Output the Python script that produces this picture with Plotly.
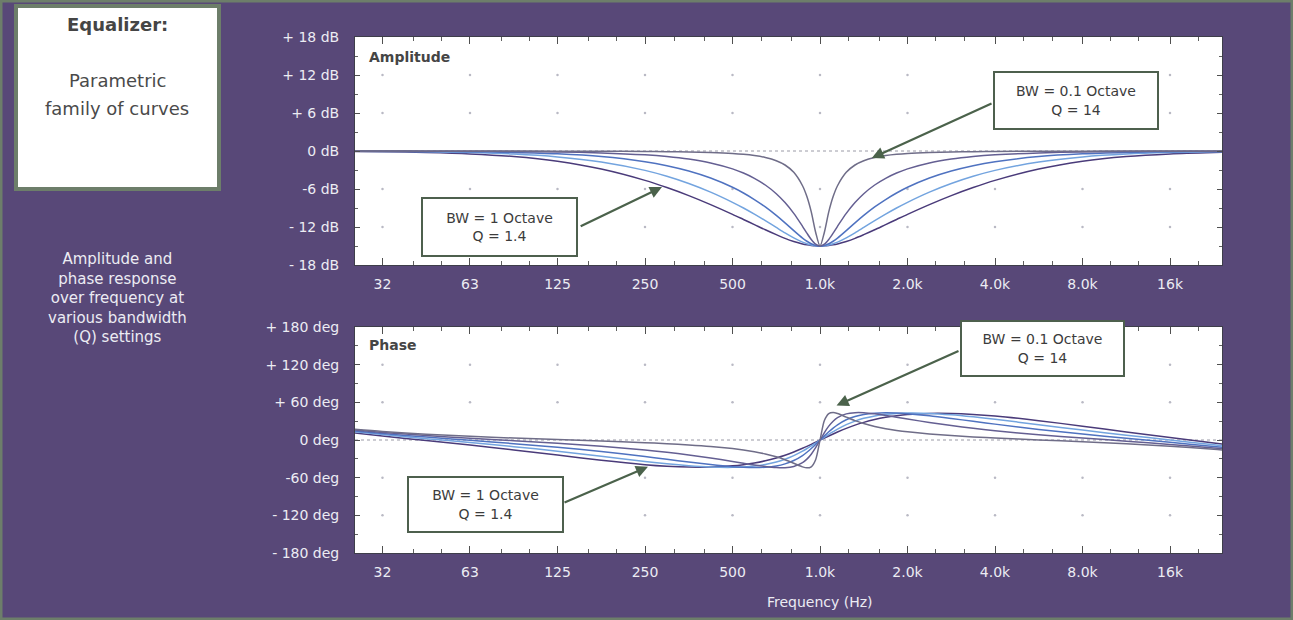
import math
import plotly.graph_objects as go

# ---------------- data ----------------
freq_hz = [25.0, 31.25, 44.19, 62.5, 88.39, 125, 176.8, 250, 297.3, 353.6, 420.4, 500,
           545.3, 594.6, 648.4, 707.1, 757.9, 812.3, 870.6, 901.3, 933.0, 965.9, 1000,
           1035.3, 1071.8, 1109.6, 1148.7, 1231.1, 1319.5, 1414.2, 1542.2, 1681.8, 1834.0,
           2000, 2378.4, 2828.4, 3363.6, 4000, 5656.9, 8000, 11313.7, 16000, 22627.4, 24251]

# amplitude (dB), widest (BW = 1 octave) to narrowest (BW = 0.1 octave)
amp_bw_1 = [-0.08, -0.12, -0.24, -0.46, -0.88, -1.63, -2.85, -4.64, -5.77, -7.04, -8.46, -10.0,
            -10.81, -11.62, -12.44, -13.21, -13.79, -14.28, -14.67, -14.81, -14.91, -14.98, -15.0,
            -14.98, -14.91, -14.81, -14.67, -14.28, -13.79, -13.21, -12.44, -11.62, -10.81,
            -10.0, -8.46, -7.04, -5.77, -4.64, -2.85, -1.63, -0.88, -0.46, -0.24, -0.21]
amp_bw_2 = [-0.04, -0.06, -0.13, -0.25, -0.48, -0.93, -1.73, -3.06, -3.99, -5.13, -6.49, -8.10,
            -9.00, -9.97, -11.00, -12.07, -12.92, -13.71, -14.38, -14.64, -14.84, -14.96, -15.0,
            -14.96, -14.84, -14.64, -14.38, -13.71, -12.92, -12.07, -11.00, -9.97, -9.00,
            -8.10, -6.49, -5.13, -3.99, -3.06, -1.73, -0.93, -0.48, -0.25, -0.13, -0.11]
amp_bw_3 = [-0.02, -0.03, -0.06, -0.11, -0.23, -0.45, -0.88, -1.69, -2.32, -3.16, -4.27, -5.73,
            -6.63, -7.66, -8.83, -10.17, -11.34, -12.57, -13.75, -14.25, -14.65, -14.91, -15.0,
            -14.91, -14.65, -14.25, -13.75, -12.57, -11.34, -10.17, -8.83, -7.66, -6.63,
            -5.73, -4.27, -3.16, -2.32, -1.69, -0.88, -0.45, -0.23, -0.11, -0.06, -0.05]
amp_bw_4 = [-0.01, -0.01, -0.02, -0.04, -0.07, -0.15, -0.30, -0.61, -0.88, -1.28, -1.88, -2.82,
            -3.48, -4.31, -5.37, -6.74, -8.14, -9.85, -11.89, -12.97, -13.97, -14.72, -15.0,
            -14.72, -13.97, -12.97, -11.89, -9.85, -8.14, -6.74, -5.37, -4.31, -3.48,
            -2.82, -1.88, -1.28, -0.88, -0.61, -0.30, -0.15, -0.07, -0.04, -0.02, -0.02]
amp_bw_01 = [0.0, 0.0, 0.0, -0.01, -0.01, -0.02, -0.03, -0.07, -0.10, -0.15, -0.24, -0.39,
             -0.52, -0.72, -1.02, -1.53, -2.21, -3.37, -5.49, -7.20, -9.62, -12.82, -15.0,
             -12.82, -9.62, -7.20, -5.49, -3.37, -2.21, -1.53, -1.02, -0.72, -0.52,
             -0.39, -0.24, -0.15, -0.10, -0.07, -0.03, -0.02, -0.01, -0.01, 0.0, 0.0]

# phase (deg)
ph_bw_1 = [11.3, 6.4, -0.9, -8.1, -15.8, -24.0, -32.3, -39.3, -41.8, -43.2, -43.1, -41.2,
           -39.3, -36.7, -33.2, -28.6, -24.2, -19.0, -13.2, -10.1, -6.9, -3.6, -0.3,
           3.1, 6.4, 9.6, 12.7, 18.5, 23.7, 28.1, 32.6, 36.1, 38.7,
           40.6, 42.4, 42.3, 40.8, 38.2, 30.8, 22.0, 12.9, 4.1, -4.7, -6.5]
ph_bw_2 = [13.1, 8.6, 2.1, -4.0, -10.6, -17.8, -25.9, -34.1, -37.9, -41.0, -43.1, -43.6,
           -42.9, -41.5, -39.0, -35.0, -30.6, -24.9, -17.8, -13.7, -9.4, -4.9, -0.3,
           4.4, 8.9, 13.2, 17.3, 24.4, 30.1, 34.5, 38.4, 40.9, 42.3,
           42.9, 42.4, 40.2, 36.9, 33.0, 24.4, 15.8, 7.7, 0.0, -7.7, -9.3]
ph_bw_3 = [14.6, 10.4, 4.7, -0.4, -5.8, -11.6, -18.4, -26.4, -30.7, -35.1, -39.2, -42.5,
           -43.5, -43.9, -43.3, -41.3, -38.0, -32.7, -24.7, -19.5, -13.6, -7.1, -0.3,
           6.6, 13.1, 19.0, 24.2, 32.2, 37.5, 40.7, 42.8, 43.3, 42.9,
           41.8, 38.5, 34.3, 29.8, 25.3, 16.9, 9.5, 2.9, -3.6, -10.3, -11.7]
ph_bw_4 = [16.0, 12.1, 7.1, 2.9, -1.1, -5.1, -9.9, -15.9, -19.5, -23.8, -28.7, -34.1,
           -37.0, -39.8, -42.2, -43.9, -44.1, -42.1, -36.1, -30.5, -22.6, -12.3, -0.3,
           11.8, 22.1, 30.0, 35.5, 41.6, 43.5, 43.4, 41.7, 39.2, 36.4,
           33.5, 27.9, 23.0, 18.6, 14.8, 8.4, 3.1, -1.8, -7.0, -12.7, -14.0]
ph_bw_01 = [17.2, 13.6, 9.2, 5.9, 3.1, 0.8, -1.5, -4.2, -5.8, -7.8, -10.3, -13.7,
            -15.9, -18.6, -22.2, -26.7, -31.4, -37.0, -42.8, -44.4, -42.7, -31.5, -0.3,
            31.0, 42.1, 43.8, 42.2, 36.5, 30.9, 26.2, 21.6, 18.1, 15.3,
            13.0, 9.6, 7.0, 4.9, 3.1, 0.1, -2.8, -6.0, -9.9, -14.8, -16.0]

x_tick_vals = [31.25, 62.5, 125, 250, 500, 1000, 2000, 4000, 8000, 16000]
x_tick_text = ["32", "63", "125", "250", "500", "1.0k", "2.0k", "4.0k", "8.0k", "16k"]
x_minor_vals = [25, 40, 50, 80, 100, 160, 200, 315, 400, 630, 800, 1250, 1600,
                2500, 3150, 5000, 6300, 10000, 12500, 20000]
amp_tick_vals = [-18, -12, -6, 0, 6, 12, 18]
amp_tick_text = ["- 18 dB", "- 12 dB", "-6 dB", "0 dB", "+ 6 dB", "+ 12 dB", "+ 18 dB"]
ph_tick_vals = [-180, -120, -60, 0, 60, 120, 180]
ph_tick_text = ["- 180 deg", "- 120 deg", "-60 deg", "0 deg", "+ 60 deg", "+ 120 deg", "+ 180 deg"]

amp_series = [amp_bw_1, amp_bw_2, amp_bw_3, amp_bw_4, amp_bw_01]
ph_series = [ph_bw_1, ph_bw_2, ph_bw_3, ph_bw_4, ph_bw_01]
line_colors = ["#4a3b7a", "#73a4df", "#4f72c0", "#645f92", "#6f6d88"]

# ---------------- layout helpers ----------------
W, H = 1293, 620
def px(x):
    return x / W
def py(y):
    return 1 - y / H

BG = "#584878"
FRAME = "#6d7e6a"
LBL = "#ececf3"
FONT = "DejaVu Sans"

fig = go.Figure()

# grid intersection dots
for yvals, xa, ya in [([-12, -6, 6, 12], "x", "y"), ([-120, -60, 60, 120], "x2", "y2")]:
    gx, gy = [], []
    for yv in yvals:
        for xv in x_tick_vals:
            gx.append(xv)
            gy.append(yv)
    fig.add_trace(go.Scatter(x=gx, y=gy, mode="markers", xaxis=xa, yaxis=ya,
                             marker=dict(size=2.5, color="#b9b9c4"), hoverinfo="skip"))

for vals, col in zip(amp_series, line_colors):
    fig.add_trace(go.Scatter(x=freq_hz, y=vals, mode="lines", xaxis="x", yaxis="y",
                             line=dict(color=col, width=1.5, shape="spline", smoothing=0.8),
                             hoverinfo="skip"))
for vals, col in zip(ph_series, line_colors):
    fig.add_trace(go.Scatter(x=freq_hz, y=vals, mode="lines", xaxis="x2", yaxis="y2",
                             line=dict(color=col, width=1.5, shape="spline", smoothing=0.8),
                             hoverinfo="skip"))

xlog_range = [1.4003, 4.3829]
xdom = [px(355), px(1222)]
common_x = dict(type="log", range=xlog_range, domain=xdom, tickmode="array",
                tickvals=x_tick_vals, ticktext=x_tick_text, ticks="inside", ticklen=7,
                tickcolor="#505050", tickwidth=1, showline=True, linecolor="#3e3e4a",
                linewidth=1, mirror="allticks", showgrid=False, zeroline=False,
                tickfont=dict(family=FONT, size=14, color=LBL), ticklabelstandoff=6,
                minor=dict(tickvals=x_minor_vals, ticks="inside", ticklen=4,
                           tickcolor="#606060", showgrid=False))
common_y = dict(tickmode="array", ticks="inside", ticklen=5, tickcolor="#505050",
                showline=True, linecolor="#3e3e4a", linewidth=1, mirror="allticks",
                showgrid=False, zeroline=False,
                tickfont=dict(family=FONT, size=14, color=LBL), ticklabelstandoff=12)

fig.update_layout(
    width=W, height=H, autosize=False,
    margin=dict(l=0, r=0, t=0, b=0, pad=0, autoexpand=False),
    paper_bgcolor=BG, plot_bgcolor="white", showlegend=False,
    font=dict(family=FONT, color=LBL),
    xaxis=dict(anchor="y", **common_x),
    xaxis2=dict(anchor="y2", **common_x),
    yaxis=dict(anchor="x", domain=[py(265), py(37)], range=[-18, 18],
               tickvals=amp_tick_vals, ticktext=amp_tick_text,
               minor=dict(dtick=3, tick0=0, ticks="inside", ticklen=3, tickcolor="#606060"),
               **common_y),
    yaxis2=dict(anchor="x2", domain=[py(553), py(327)], range=[-180, 180],
                tickvals=ph_tick_vals, ticktext=ph_tick_text,
                minor=dict(dtick=30, tick0=0, ticks="inside", ticklen=3, tickcolor="#606060"),
                **common_y),
)

shapes = [
    dict(type="rect", xref="paper", yref="paper", x0=0, y0=0, x1=1, y1=1,
         line=dict(color=FRAME, width=5), fillcolor="rgba(0,0,0,0)", layer="below"),
    dict(type="rect", xref="paper", yref="paper", x0=px(16), y0=py(189), x1=px(219), y1=py(6),
         line=dict(color=FRAME, width=4), fillcolor="white", layer="below"),
    dict(type="line", xref="x domain", yref="y", x0=0, x1=1, y0=0, y1=0,
         line=dict(color="#9a9aa6", width=1, dash="dot"), layer="below"),
    dict(type="line", xref="x2 domain", yref="y2", x0=0, x1=1, y0=0, y1=0,
         line=dict(color="#9a9aa6", width=1, dash="dot"), layer="below"),
]
fig.update_layout(shapes=shapes)

L = math.log10
ARROW = "#4b624b"
BOXLINE = "#4e604e"
ann = []
# left panel texts
ann.append(dict(xref="paper", yref="paper", x=px(117), y=py(25), xanchor="center",
                yanchor="middle", text="<b>Equalizer:</b>",
                showarrow=False, font=dict(family=FONT, size=18, color="#454545")))
ann.append(dict(xref="paper", yref="paper", x=px(117), y=py(81), xanchor="center",
                yanchor="middle", text="Parametric", showarrow=False,
                font=dict(family=FONT, size=18, color="#4a4a4a")))
ann.append(dict(xref="paper", yref="paper", x=px(117), y=py(109), xanchor="center",
                yanchor="middle", text="family of curves", showarrow=False,
                font=dict(family=FONT, size=18, color="#4a4a4a")))
ann.append(dict(xref="paper", yref="paper", x=px(117), y=py(298), xanchor="center",
                yanchor="middle",
                text="Amplitude and<br>phase response<br>over frequency at<br>various bandwidth<br>(Q) settings",
                showarrow=False, font=dict(family=FONT, size=15, color=LBL)))
# panel titles
ann.append(dict(xref="paper", yref="paper", x=px(367), y=py(57), xanchor="left",
                yanchor="middle", text="<b>Amplitude</b>", showarrow=False,
                font=dict(family=FONT, size=14, color="#454545")))
ann.append(dict(xref="paper", yref="paper", x=px(367), y=py(345), xanchor="left",
                yanchor="middle", text="<b>Phase</b>", showarrow=False,
                font=dict(family=FONT, size=14, color="#454545")))
ann.append(dict(xref="paper", yref="paper", x=px(820), y=py(602), xanchor="center",
                yanchor="middle", text="Frequency (Hz)",
                showarrow=False, font=dict(family=FONT, size=14, color=LBL)))

# arrows (tip -> tail in data coordinates)
arrows = [
    ("x", "y", 1507, -1.1, 3937, 7.6),
    ("x", "y", 286, -5.7, 148.4, -12.0),
    ("x2", "y2", 1140, 55.0, 3031, 143.0),
    ("x2", "y2", 256, -42.5, 130.6, -100.4),
]
for xa, ya, fx, vy, tx, ty in arrows:
    ann.append(dict(xref=xa, yref=ya, axref=xa, ayref=ya, x=L(fx), y=vy, ax=L(tx), ay=ty,
                    text="", showarrow=True, arrowhead=2, arrowsize=1.1, arrowwidth=2.2,
                    arrowcolor=ARROW))
boxes = [
    ("x", "y", 7600, 8.05, "BW = 0.1 Octave<br>Q = 14", 160, 53),
    ("x", "y", 79.2, -11.95, "BW = 1 Octave<br>Q = 1.4", 151, 54),
    ("x2", "y2", 5827, 145.7, "BW = 0.1 Octave<br>Q = 14", 159, 51),
    ("x2", "y2", 70.4, -103.5, "BW = 1 Octave<br>Q = 1.4", 151, 51),
]
for xa, ya, fx, vy, txt, w, h in boxes:
    ann.append(dict(xref=xa, yref=ya, x=L(fx), y=vy, text=txt, showarrow=False,
                    xanchor="center", yanchor="middle",
                    width=w, height=h, bgcolor="white", bordercolor=BOXLINE, borderwidth=2,
                    borderpad=1, align="center",
                    font=dict(family=FONT, size=14, color="#3c3c3c")))
fig.update_layout(annotations=ann)

fig.write_html("out.html")
